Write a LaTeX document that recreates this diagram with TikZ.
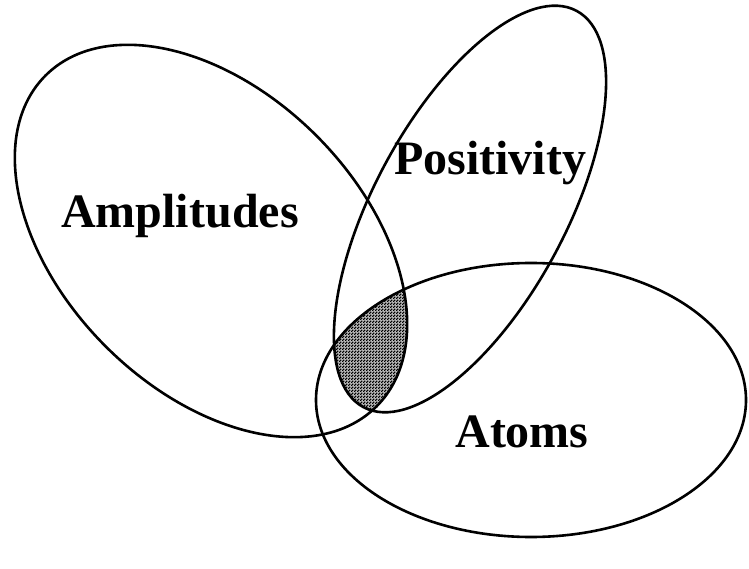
\documentclass[tikz,border=0pt]{standalone}
\usepackage{fontspec}
\setmainfont{Liberation Serif}
\usetikzlibrary{patterns.meta}
\tikzdeclarepattern{
  name=finecheck,
  bottom left={(0pt,0pt)},
  top right={(3pt,3pt)},
  tile size={(3pt,3pt)},
  code={
    \fill (0pt,0pt) rectangle (1.7pt,1.7pt);
    \fill (1.5pt,1.5pt) rectangle (3.1pt,3.1pt);
  }
}
\tikzset{
  setline/.style={line width=2.6pt, black},
  setlabel/.style={font=\fontsize{48}{56}\selectfont\bfseries, anchor=base, inner sep=0pt},
  ampl/.style={shift={(211pt,327pt)}, rotate=-45},
  posi/.style={shift={(470pt,359pt)}, rotate=61.7},
  atom/.style={shift={(531pt,168pt)}},
}
\begin{document}
\begin{tikzpicture}[x=1pt,y=1pt]
\useasboundingbox (0,0) rectangle (749,568);
% shaded triple intersection
\begin{scope}
  \clip[ampl] (0,0) ellipse [x radius=234pt, y radius=149pt];
  \clip[posi] (0,0) ellipse [x radius=225pt, y radius=96pt];
  \fill[black!25, atom] (0,0) ellipse [x radius=215pt, y radius=137pt];
  \fill[pattern=finecheck, atom] (0,0) ellipse [x radius=215pt, y radius=137pt];
\end{scope}
% ellipses
\draw[setline, ampl] (0,0) ellipse [x radius=234pt, y radius=149pt];
\draw[setline, posi] (0,0) ellipse [x radius=225pt, y radius=96pt];
\draw[setline, atom] (0,0) ellipse [x radius=215pt, y radius=137pt];
% labels
\node[setlabel] (amplitudes) at (180,340) {Amplitudes};
\node[setlabel] (positivity) at (490,393) {Positivity};
\node[setlabel] (atoms) at (522,121) {Atoms};
\end{tikzpicture}
\end{document}
